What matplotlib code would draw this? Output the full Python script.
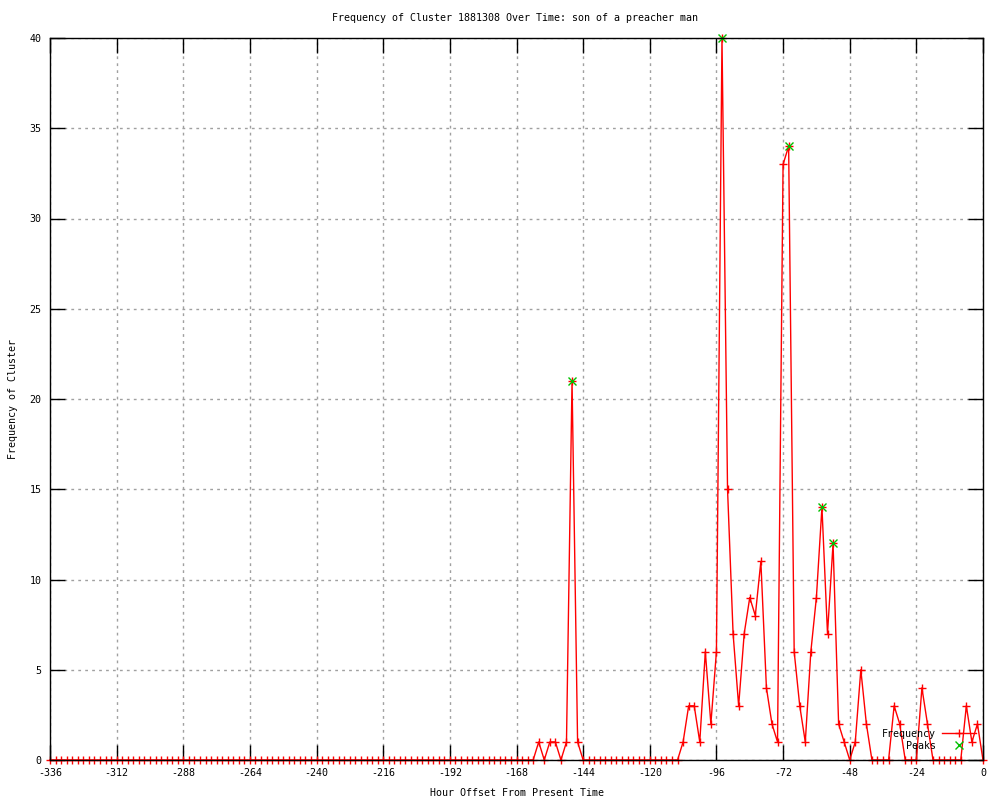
import matplotlib
matplotlib.use("Agg")
import matplotlib.pyplot as plt
from matplotlib.lines import Line2D
import numpy as np

plt.rcParams['axes.unicode_minus'] = False
plt.rcParams['font.family'] = ['DejaVu Sans Mono']

title = "Frequency of Cluster 1881308 Over Time: son of a preacher man"
xlabel = "Hour Offset From Present Time"
ylabel = "Frequency of Cluster"

# hours from -336 to 0 every 2 hours; nonzero counts
hours = list(range(-336, 1, 2))
nonzero = {
    -160: 1, -156: 1, -154: 1, -150: 1, -148: 21, -146: 1,
    -108: 1, -106: 3, -104: 3, -102: 1, -100: 6, -98: 2, -96: 6, -94: 40,
    -92: 15, -90: 7, -88: 3, -86: 7, -84: 9, -82: 8, -80: 11, -78: 4,
    -76: 2, -74: 1, -72: 33, -70: 34, -68: 6, -66: 3, -64: 1, -62: 6,
    -60: 9, -58: 14, -56: 7, -54: 12, -52: 2, -50: 1, -48: 0, -46: 1,
    -44: 5, -42: 2, -32: 3, -30: 2, -22: 4, -20: 2, -6: 3, -4: 1, -2: 2,
}
freq = [nonzero.get(h, 0) for h in hours]

peak_hours = [-148, -94, -70, -58, -54]
peak_vals = [21, 40, 34, 14, 12]

xticks = list(range(-336, 1, 24))
yticks = list(range(0, 41, 5))

RED = '#ff0000'
GREEN = '#00c000'
FS = 7.2

fig = plt.figure(figsize=(10, 8), dpi=100)
ax = fig.add_axes([0.05, 0.05, 0.933, 0.9025])

ax.plot(hours, freq, color=RED, lw=1, marker='+', markersize=6.2,
        markeredgewidth=1, clip_on=False, zorder=3)
ax.plot(peak_hours, peak_vals, ls='none', color=GREEN, marker='x',
        markersize=5.5, markeredgewidth=1, clip_on=False, zorder=4)

ax.set_xlim(-336, 0)
ax.set_ylim(0, 40)
ax.set_xticks(xticks)
ax.set_yticks(yticks)
ax.tick_params(direction='in', length=11, width=1, top=True, right=True,
               labelsize=FS, colors='black')
ax.tick_params(axis='x', pad=6)
ax.tick_params(axis='y', pad=6)
ax.grid(True, color='#a0a0a0', linestyle=(0, (2, 3)), linewidth=1)
ax.set_axisbelow(True)
for s in ax.spines.values():
    s.set_linewidth(1)
    s.set_zorder(5)

fig.text(0.5145, 1 - 18 / 800, title, fontsize=FS, ha='center', va='center')
fig.text(0.5165, 1 - 793 / 800, xlabel, fontsize=FS, ha='center', va='center')
fig.text(13 / 1000, 1 - 399 / 800, ylabel, fontsize=FS, ha='center',
         va='center', rotation=90)

handles = [Line2D([], [], color=RED, lw=1, marker='+', markersize=6.2),
           Line2D([], [], color=GREEN, ls='none', marker='x', markersize=5.5)]
ax.legend(handles, ['Frequency', 'Peaks'], loc='lower right',
          bbox_to_anchor=(0.9925, 0.013), frameon=False, markerfirst=False,
          fontsize=FS, handlelength=3.4, handletextpad=0.6,
          labelspacing=0.2, borderpad=0, borderaxespad=0)

fig.savefig('out.png', dpi=100)
